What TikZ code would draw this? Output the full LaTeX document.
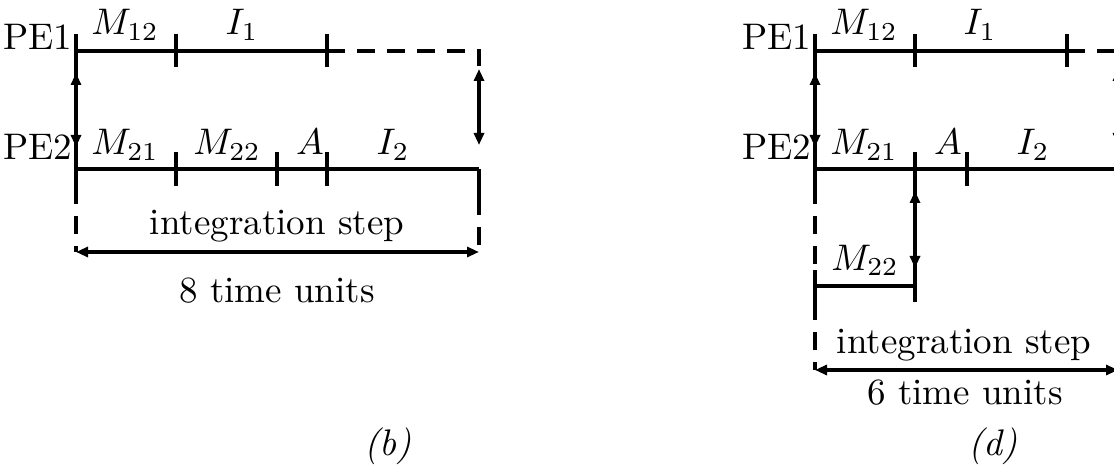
\RequirePackage{fix-cm}
\documentclass[tikz,border=0pt]{standalone}
\usetikzlibrary{arrows.meta}
\begin{document}
\begin{tikzpicture}[x=1pt,y=-1pt,
  ln/.style={line width=3.5pt},
  dsh/.style={line width=3.5pt, dash pattern=on 18pt off 12pt},
  dbl/.style={line width=3.5pt,{Triangle[length=12pt,width=10pt]}-{Triangle[length=12pt,width=10pt]}},
  lbl/.style={font=\fontsize{10}{12}\selectfont, scale=3.7, inner sep=0pt, anchor=base},
  pe/.style={lbl, anchor=base east}]
\useasboundingbox (0,0) rectangle (1114,465);

% ---------------- diagram (b) ----------------
\node[pe] (bpe1) at (73,50) {PE1};
\node[pe] (bpe2) at (73,160) {PE2};
\node[lbl] (bm12) at (125,35) {$M_{12}$};
\node[lbl] (bi1) at (242,35) {$I_1$};
\node[lbl] (bm21) at (125,155) {$M_{21}$};
\node[lbl] (bm22) at (227,155) {$M_{22}$};
\node[lbl] (ba) at (310,155) {$A$};
\node[lbl] (bi2) at (393,155) {$I_2$};
\node[lbl] (bstep) at (277,235) {integration step};
\node[lbl] (bunits) at (277,302) {8 time units};
\node[lbl] (bcap) at (388,455) {\textit{(b)}};

\coordinate (bA1) at (76,51);  \coordinate (bB1) at (176,51);
\coordinate (bC1) at (327,51); \coordinate (bE1) at (479,51);
\coordinate (bA2) at (76,169); \coordinate (bB2) at (176,169);
\coordinate (bC2) at (277,169); \coordinate (bD2) at (327,169);
\coordinate (bE2) at (479,169);
\coordinate (bL) at (76,252); \coordinate (bR) at (479,252);

\draw[ln] (bA1) -- (bC1);
\draw[dsh] (bC1) -- (bE1) -- ([yshift=-15pt]bE1);
\draw[ln] ([yshift=17pt]bA1) -- ([yshift=-17pt]bA2);
\foreach \p in {bB1,bC1} \draw[ln] ([yshift=17pt]\p) -- ([yshift=-16pt]\p);
\draw[ln] (bA2) -- (bE2);
\foreach \p in {bB2,bC2,bD2} \draw[ln] ([yshift=17pt]\p) -- ([yshift=-17pt]\p);
\draw[ln] (bE2) -- ([yshift=-28pt]bE2);
\draw[dbl] (76,73) -- (76,147);
\draw[dbl] (479,69) -- (479,145);
\draw[dsh] ([yshift=-17pt]bA2) -- (bL);
\draw[dsh] ([yshift=-28pt]bE2) -- (bR);
\draw[dbl] (bL) -- (bR);

% ---------------- diagram (d) ----------------
\node[pe] (dpe1) at (812,50) {PE1};
\node[pe] (dpe2) at (812,160) {PE2};
\node[lbl] (dm12) at (864,35) {$M_{12}$};
\node[lbl] (di1) at (980,35) {$I_1$};
\node[lbl] (dm21) at (864,155) {$M_{21}$};
\node[lbl] (da) at (948,155) {$A$};
\node[lbl] (di2) at (1033,155) {$I_2$};
\node[lbl] (dm22) at (865,270) {$M_{22}$};
\node[lbl] (dstep) at (964,353) {integration step};
\node[lbl] (dunits) at (965,404) {6 time units};
\node[lbl] (dcap) at (993,455) {\textit{(d)}};

\coordinate (dA1) at (815,51);  \coordinate (dB1) at (915,51);
\coordinate (dC1) at (1067,51); \coordinate (dE1) at (1118,51);
\coordinate (dA2) at (815,169); \coordinate (dB2) at (915,169);
\coordinate (dC2) at (967,169); \coordinate (dE2) at (1118,169);
\coordinate (dA3) at (815,286); \coordinate (dB3) at (915,286);
\coordinate (dL) at (815,370); \coordinate (dR) at (1118,370);

\draw[ln] (dA1) -- (dC1);
\draw[dsh] (dC1) -- (dE1) -- ([yshift=-15pt]dE1);
\draw[ln] ([yshift=17pt]dA1) -- ([yshift=-17pt]dA2);
\foreach \p in {dB1,dC1} \draw[ln] ([yshift=17pt]\p) -- ([yshift=-16pt]\p);
\draw[ln] (dA2) -- (dE2);
\draw[ln] ([yshift=17pt]dC2) -- ([yshift=-17pt]dC2);
\draw[ln] ([yshift=17pt]dB2) -- ([yshift=-16pt]dB3);
\draw[dbl] (915,191) -- (915,268);
\draw[ln] (dA3) -- (dB3);
\draw[ln] ([yshift=16pt]dA3) -- ([yshift=-16pt]dA3);
\draw[dbl] (815,73) -- (815,147);
\draw[dbl] (1118,69) -- (1118,145);
\draw[dsh] ([yshift=-17pt]dA2) -- ([yshift=16pt]dA3);
\draw[dsh] ([yshift=-16pt]dA3) -- (dL);
\draw[dsh] ([yshift=-28pt]dE2) -- (dR);
\draw[dbl] (dL) -- (dR);
\end{tikzpicture}
\end{document}
